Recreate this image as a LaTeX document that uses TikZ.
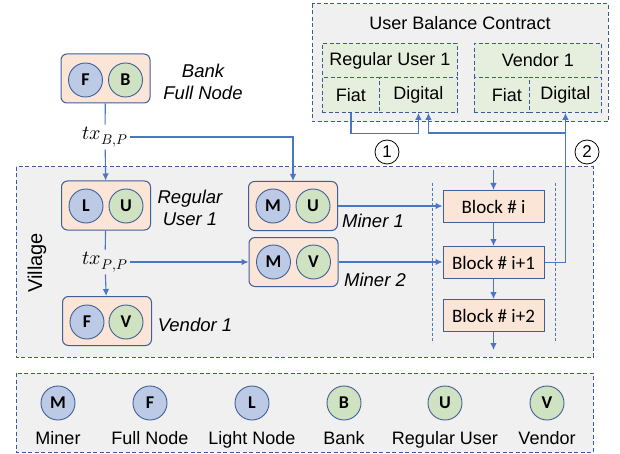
\documentclass[tikz,border=0pt]{standalone}
\usepackage{fontspec}
\usepackage{unicode-math}
\setmainfont{Liberation Sans}
\setmathfont{Latin Modern Math}
\newfontfamily\calfont{Carlito}
\usetikzlibrary{arrows.meta}

\definecolor{peach}{HTML}{FBE5D6}
\definecolor{roleblue}{HTML}{BCCAE6}
\definecolor{rolegreen}{HTML}{CFE3C2}
\definecolor{edgeblue}{HTML}{3F5F98}
\definecolor{dashblue}{HTML}{3A5A9A}
\definecolor{flowblue}{HTML}{4A76C6}
\definecolor{zonegray}{HTML}{F0F0F0}
\definecolor{cellgreen}{HTML}{E6EFDD}

\tikzset{
  pairbox/.style={draw=edgeblue, fill=peach, rounded corners=6pt, line width=1pt, minimum width=89pt, minimum height=49pt},
  rolebox/.style={circle, draw=edgeblue, line width=0.9pt, minimum size=34pt, inner sep=0pt, font=\calfont\bfseries\fontsize{18}{18}\selectfont},
  bluerole/.style={rolebox, fill=roleblue},
  greenrole/.style={rolebox, fill=rolegreen},
  blockbox/.style={draw=edgeblue, fill=peach, line width=1pt, minimum width=101pt, minimum height=32pt, font=\calfont\fontsize{19}{19}\selectfont},
  caption/.style={font=\itshape\fontsize{18.5}{22}\selectfont, align=center},
  zone/.style={draw=dashblue, line width=1pt, dash pattern=on 4pt off 2.5pt, fill=zonegray},
  cell/.style={draw=dashblue, line width=0.9pt, dash pattern=on 4pt off 2.5pt, fill=cellgreen, inner sep=0pt, anchor=north west, font=\fontsize{18}{18}\selectfont},
  flow/.style={draw=flowblue, line width=1.1pt},
  flowto/.style={flow, -{Latex[length=7pt,width=6.5pt]}},
  txlabel/.style={font=\fontsize{20}{20}\selectfont, inner sep=2pt},
  stepnum/.style={circle, draw, line width=0.8pt, minimum size=24pt, inner sep=0pt, font=\fontsize{17}{17}\selectfont},
  legendtext/.style={font=\fontsize{18}{18}\selectfont, anchor=base},
}

\begin{document}
\begin{tikzpicture}[x=1pt, y=-1pt]
  \useasboundingbox (0,0) rectangle (620,454);

  % background zones
  \draw[zone] (312,4) rectangle (608,122);
  \draw[zone] (16,167) rectangle (593,357);
  \draw[zone] (16,373) rectangle (593,452);
  \node[rotate=90, font=\fontsize{20}{20}\selectfont] (village) at (37,263) {Village};

  % user balance contract
  \node[font=\fontsize{18}{18}\selectfont] (ctitle) at (460,23) {User Balance Contract};
  \node[cell, minimum width=135pt, minimum height=34pt] (ruhead) at (322,43) {Regular User 1};
  \node[cell, minimum width=57pt, minimum height=35pt] (rufiat) at (322,77) {Fiat};
  \node[cell, minimum width=78pt, minimum height=35pt] (rudig) at (379,77) {Digital};
  \node[cell, minimum width=127pt, minimum height=34pt] (vhead) at (474,43) {Vendor 1};
  \node[cell, minimum width=55pt, minimum height=35pt] (vfiat) at (474,77) {\hspace{10pt}Fiat};
  \node[cell, minimum width=72pt, minimum height=35pt] (vdig) at (529,77) {Digital};

  % bank
  \node[pairbox] (bank) at (105.5,78.5) {};
  \node[bluerole] (bankF) at (85.5,80) {F};
  \node[greenrole] (bankB) at (125.5,80) {B};
  \node[caption] (bankcap) at (203,81.5) {Bank\\Full Node};

  % regular user
  \node[pairbox] (ru) at (106,205.5) {};
  \node[bluerole] (ruL) at (86,206) {L};
  \node[greenrole] (ruU) at (126,206) {U};
  \node[caption] (rucap) at (190,207.5) {Regular\\User 1};

  % vendor
  \node[pairbox] (vendor) at (107,321) {};
  \node[bluerole] (vendorF) at (87,322) {F};
  \node[greenrole] (vendorV) at (126,322) {V};
  \node[caption] (vendorcap) at (195,325) {Vendor 1};

  % miners
  \node[pairbox] (miner1) at (293,206) {};
  \node[bluerole] (miner1M) at (273,206) {M};
  \node[greenrole] (miner1U) at (313,206) {U};
  \node[caption] (miner1cap) at (373,221) {Miner 1};
  \node[pairbox] (miner2) at (293.5,262) {};
  \node[bluerole] (miner2M) at (273.5,262) {M};
  \node[greenrole] (miner2V) at (313.5,262) {V};
  \node[caption] (miner2cap) at (375,280) {Miner 2};

  % chain
  \draw[flowblue, line width=0.8pt, dash pattern=on 3pt off 2pt] (432,183) -- (432,343);
  \draw[flowblue, line width=0.8pt, dash pattern=on 3pt off 2pt] (555,183) -- (555,343);
  \node[blockbox] (blk0) at (493.5,206.5) {Block \# i};
  \node[blockbox] (blk1) at (493.5,262.5) {Block \# i+1};
  \node[blockbox] (blk2) at (493.5,315.5) {Block \# i+2};
  \coordinate (chainin) at (493.5,170);
  \coordinate (chainout) at (493.5,350);

  % transactions
  \node[txlabel] (txbp) at (105,137) {$tx_{B,P}$};
  \node[txlabel] (txpp) at (105,262) {$tx_{P,P}$};
  \draw[flow] (bank) -- (txbp);
  \draw[flowto] (txbp) -- (ru);
  \draw[flowto] (txbp.east) -| (miner1.north);
  \draw[flow] (ru) -- (txpp);
  \draw[flowto] (txpp) -- (vendor);
  \draw[flowto] (txpp.east) -- (miner2.west);
  \draw[flowto] (miner1.east) -- (miner1.east -| blk0.west);
  \draw[flowto] (miner2.east) -- (miner2.east -| blk1.west);
  \draw[flowto] (chainin) -- (blk0);
  \draw[flowto] (blk0) -- (blk1);
  \draw[flowto] (blk1) -- (blk2);
  \draw[flowto] (blk2) -- (chainout);

  % balance updates
  \draw[flowto] (rufiat.south) -- ++(0,21) -| (rudig.south);
  \node[stepnum] (step1) at (387,152) {1};
  \draw[flowto] (blk1.east) -| (vdig.south);
  \coordinate (split) at (vdig.south |- 0,133);
  \draw[flowto] (split) -| ([xshift=10pt]rudig.south);
  \node[stepnum] (step2) at (587,152) {2};

  % legend
  \node[bluerole] (lgM) at (58,403) {M};
  \node[legendtext] (lgMt) at (58,444) {Miner};
  \node[bluerole] (lgF) at (150,403) {F};
  \node[legendtext] (lgFt) at (150,444) {Full Node};
  \node[bluerole] (lgL) at (252,403) {L};
  \node[legendtext] (lgLt) at (252,444) {Light Node};
  \node[greenrole] (lgB) at (344,403) {B};
  \node[legendtext] (lgBt) at (344,444) {Bank};
  \node[greenrole] (lgU) at (445,403) {U};
  \node[legendtext] (lgUt) at (445,444) {Regular User};
  \node[greenrole] (lgV) at (547,403) {V};
  \node[legendtext] (lgVt) at (547,444) {Vendor};
\end{tikzpicture}
\end{document}
